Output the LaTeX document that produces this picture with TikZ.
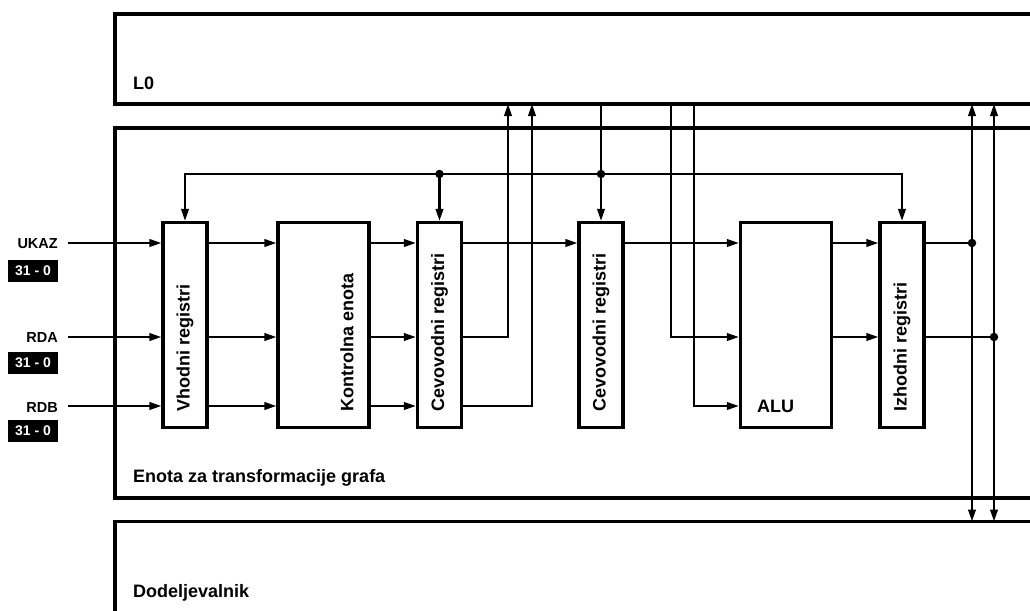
\documentclass[tikz,border=0pt]{standalone}
\usepackage{fontspec}
\setmainfont{Liberation Sans}
\usetikzlibrary{arrows.meta}

\begin{document}
\begin{tikzpicture}[x=1pt,y=-1pt,
  tip/.tip={Triangle[length=12pt,width=7.5pt]},
  conn/.style={line width=2.3pt,-tip},
  wire/.style={line width=2.3pt},
  both/.style={line width=2.3pt,tip-tip},
  unit/.style={draw,line width=3.2pt,inner sep=0pt,minimum height=205pt},
  narrow/.style={unit,minimum width=44pt},
  wide/.style={unit,minimum width=91pt},
  panel/.style={draw,anchor=north west,inner sep=0pt,outer sep=0pt,minimum width=940pt},
  vtext/.style={rotate=90,anchor=west,inner sep=0pt,font=\bfseries\fontsize{18}{20}\selectfont},
  htext/.style={anchor=base west,inner sep=0pt,font=\bfseries\fontsize{18}{20}\selectfont},
  sig/.style={anchor=east,inner sep=0pt,font=\bfseries\fontsize{14.5}{16}\selectfont},
  bits/.style={fill=black,text=white,minimum width=50pt,minimum height=22pt,inner sep=0pt,
               font=\bfseries\fontsize{14}{16}\selectfont},
  dot/.style={circle,fill=black,inner sep=0pt,minimum size=8.5pt}
]
\useasboundingbox (0,0) rectangle (1030,610);
\clip (0,0) rectangle (1030,610);

% outer blocks (open to the right)
\node[panel,line width=3.2pt,minimum height=90pt]  (l0)  at (115,14)    {};
\node[panel,line width=4.6pt,minimum height=370pt] (etg) at (115,128)   {};
\node[panel,line width=3.2pt,minimum height=120pt] (dod) at (115,521.5) {};
\node[htext] (l0T)  at (133,89)  {L0};
\node[htext] (etgT) at (133,482) {Enota za transformacije grafa};
\node[htext] (dodT) at (133,597) {Dodeljevalnik};

% functional units
\node[narrow] (vhod) at (185,325)   {};
\node[wide]   (kont) at (323.5,325) {};
\node[narrow] (cev1) at (439.5,325) {};
\node[narrow] (cev2) at (601,325)   {};
\node[wide]   (alu)  at (786,325)   {};
\node[narrow] (izh)  at (902,325)   {};

\node[vtext] (vhodT) at (185,412)   {Vhodni registri};
\node[vtext] (kontT) at (347,412)   {Kontrolna enota};
\node[vtext] (cev1T) at (439.5,412) {Cevovodni registri};
\node[vtext] (cev2T) at (601,412)   {Cevovodni registri};
\node[vtext] (izhT)  at (902,412)   {Izhodni registri};
\node[htext] (aluT)  at (757,412)   {ALU};

% input signals
\node[sig]  (ukaz) at (58,244) {UKAZ};
\node[sig]  (rda)  at (58,338) {RDA};
\node[sig]  (rdb)  at (58,408) {RDB};
\node[bits] (bA)   at (33,271) {31 - 0};
\node[bits] (bB)   at (33,363) {31 - 0};
\node[bits] (bC)   at (33,431) {31 - 0};

% rows and columns of the wiring
\coordinate (rA)  at (0,243);
\coordinate (rB)  at (0,337);
\coordinate (rC)  at (0,406);
\coordinate (bus) at (0,174);
\coordinate (upB) at (508,0);
\coordinate (upC) at (532,0);
\coordinate (dnB) at (671,0);
\coordinate (dnC) at (694,0);
\coordinate (oA)  at (972,0);
\coordinate (oB)  at (994,0);

% inputs into the input registers
\draw[conn] ([xshift=10pt]ukaz.east |- rA) -- (vhod.west |- rA);
\draw[conn] ([xshift=10pt]rda.east |- rB)  -- (vhod.west |- rB);
\draw[conn] ([xshift=10pt]rdb.east |- rC)  -- (vhod.west |- rC);

% input registers -> control unit -> pipeline registers
\foreach \r in {rA,rB,rC}{
  \draw[conn] (vhod.east |- \r) -- (kont.west |- \r);
  \draw[conn] (kont.east |- \r) -- (cev1.west |- \r);
}
\draw[conn] (cev1.east |- rA) -- (cev2.west |- rA);
\draw[conn] (cev1.east |- rB) -| (upB |- l0.south);
\draw[conn] (cev1.east |- rC) -| (upC |- l0.south);

% control bus
\draw[both] (vhod.north) -- (vhod.north |- bus) -- (izh.north |- bus) -- (izh.north);
\draw[conn] (cev1.north |- bus) -- (cev1.north);
\draw[conn] (cev2.north |- l0.south) -- (cev2.north);
\node[dot] (j1) at (cev1.north |- bus) {};
\node[dot] (j2) at (cev2.north |- bus) {};

% ALU inputs
\draw[conn] (cev2.east |- rA) -- (alu.west |- rA);
\draw[conn] (dnB |- l0.south) |- (alu.west |- rB);
\draw[conn] (dnC |- l0.south) |- (alu.west |- rC);

% ALU -> output registers
\draw[conn] (alu.east |- rA) -- (izh.west |- rA);
\draw[conn] (alu.east |- rB) -- (izh.west |- rB);

% output registers -> L0 and Dodeljevalnik
\draw[wire] (izh.east |- rA) -- (oA |- rA);
\draw[wire] (izh.east |- rB) -- (oB |- rB);
\draw[both] (oA |- l0.south) -- (oA |- dod.north);
\draw[both] (oB |- l0.south) -- (oB |- dod.north);
\node[dot] (j3) at (oA |- rA) {};
\node[dot] (j4) at (oB |- rB) {};
\end{tikzpicture}
\end{document}
